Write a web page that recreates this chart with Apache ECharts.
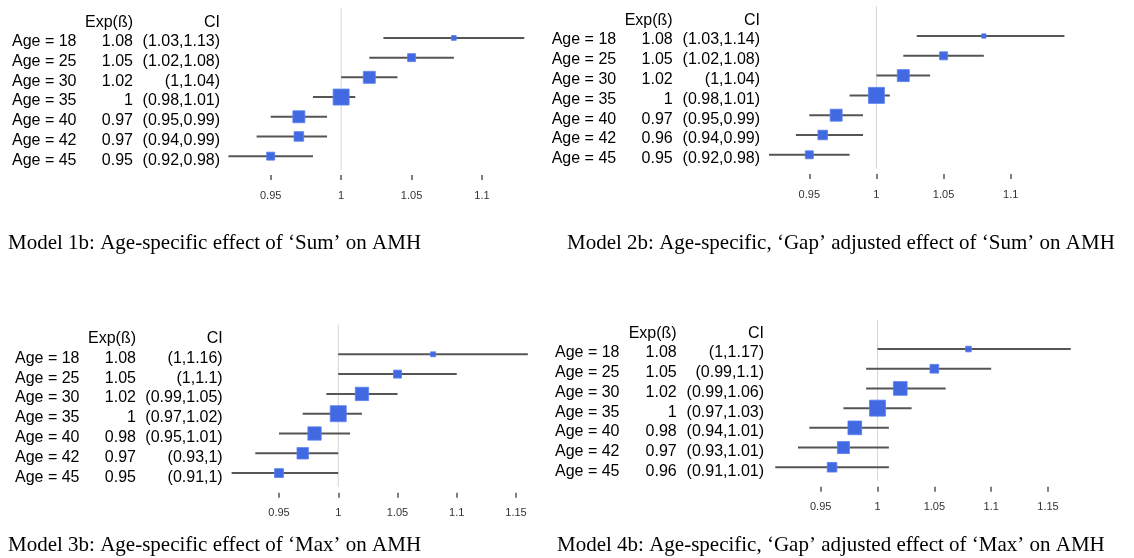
<!DOCTYPE html>
<html>
<head>
<meta charset="utf-8">
<script src="https://cdn.jsdelivr.net/npm/echarts@6/dist/echarts.min.js"></script>
<style>
html, body { margin: 0; padding: 0; background: #fff; }
#main { width: 1134px; height: 558px; }
</style>
</head>
<body>
<div id="main"></div>
<script>
// rows, top to bottom
var ages = [18, 25, 30, 35, 40, 42, 45];

// Model 1b: Sum
var sumEst = [1.08, 1.05, 1.02, 1, 0.97, 0.97, 0.95];
var sumLo  = [1.03, 1.02, 1, 0.98, 0.95, 0.94, 0.92];
var sumHi  = [1.13, 1.08, 1.04, 1.01, 0.99, 0.99, 0.98];

// Model 2b: Sum, Gap adjusted
var sumGapEst = [1.08, 1.05, 1.02, 1, 0.97, 0.96, 0.95];
var sumGapLo  = [1.03, 1.02, 1, 0.98, 0.95, 0.94, 0.92];
var sumGapHi  = [1.14, 1.08, 1.04, 1.01, 0.99, 0.99, 0.98];

// Model 3b: Max
var maxEst = [1.08, 1.05, 1.02, 1, 0.98, 0.97, 0.95];
var maxLo  = [1, 1, 0.99, 0.97, 0.95, 0.93, 0.91];
var maxHi  = [1.16, 1.1, 1.05, 1.02, 1.01, 1, 1];

// Model 4b: Max, Gap adjusted
var maxGapEst = [1.08, 1.05, 1.02, 1, 0.98, 0.97, 0.96];
var maxGapLo  = [1, 0.99, 0.99, 0.97, 0.94, 0.93, 0.91];
var maxGapHi  = [1.17, 1.1, 1.06, 1.03, 1.01, 1.01, 1.01];

var captions = [
    'Model 1b: Age-specific effect of \u2018Sum\u2019 on AMH',
    'Model 2b: Age-specific, \u2018Gap\u2019 adjusted effect of \u2018Sum\u2019 on AMH',
    'Model 3b: Age-specific effect of \u2018Max\u2019 on AMH',
    'Model 4b: Age-specific, \u2018Gap\u2019 adjusted effect of \u2018Max\u2019 on AMH'
];

var refValue = 1;
var boxColor = '#4169e1';
var lineColor = '#555';
var maxBox = 16;

/*panel layout*/
var panels = [
    {est: sumEst, lo: sumLo, hi: sumHi, axisMax: 1.1,
     grid: {left: 270.7, right: 652, top: 8.4, height: 157.6}, offset: 9,
     textLeft: 12, cols: [70, 51, 87], cap: [8, 233]},
    {est: sumGapEst, lo: sumGapLo, hi: sumGapHi, axisMax: 1.1,
     grid: {left: 809.3, right: 123.3, top: 6.3, height: 158.4}, offset: 9.3,
     textLeft: 551.7, cols: [70, 51, 87.3], cap: [567, 233]},
    {est: maxEst, lo: maxLo, hi: maxHi, axisMax: 1.15,
     grid: {left: 279, right: 618, top: 324.6, height: 158.4}, offset: 9.7,
     textLeft: 15, cols: [70, 51, 86.7], cap: [8, 535]},
    {est: maxGapEst, lo: maxGapLo, hi: maxGapHi, axisMax: 1.15,
     grid: {left: 820.7, right: 86, top: 319.5, height: 157.6}, offset: 9.6,
     textLeft: 555, cols: [70, 51.7, 87.3], cap: [557, 535]}
];

var categories = ['header'].concat(ages.map(function (a) { return 'Age = ' + a; }));

function renderRow(params, api) {
    var row = api.value(0);
    var est = api.coord([api.value(1), row]);
    var lo = api.coord([api.value(2), row]);
    var hi = api.coord([api.value(3), row]);
    var s = maxBox * api.value(4);
    return {
        type: 'group',
        children: [
            {type: 'line', shape: {x1: lo[0], y1: lo[1], x2: hi[0], y2: hi[1]},
             style: {stroke: lineColor, lineWidth: 2}},
            {type: 'rect', shape: {x: est[0] - s / 2, y: est[1] - s / 2, width: s, height: s},
             style: {fill: boxColor, stroke: '#5b80f0', lineWidth: 0.8}}
        ]
    };
}

function renderRef(params, api) {
    var x = api.coord([api.value(0), 0])[0];
    var cs = params.coordSys;
    return {
        type: 'line',
        shape: {x1: x, y1: cs.y, x2: x, y2: cs.y + cs.height + 4},
        style: {stroke: '#d6d6d6', lineWidth: 1}
    };
}

var grids = [], xAxes = [], yAxes = [], series = [], titles = [];

panels.forEach(function (p, k) {
    var minW = Infinity;
    p.est.forEach(function (v, i) { minW = Math.min(minW, p.hi[i] - p.lo[i]); });
    var rows = p.est.map(function (v, i) {
        return [i + 1, v, p.lo[i], p.hi[i], minW / (p.hi[i] - p.lo[i])];
    });

    grids.push(p.grid);
    xAxes.push({
        type: 'value', gridIndex: k, min: 0.95, max: p.axisMax, interval: 0.05,
        offset: p.offset,
        axisLine: {lineStyle: {color: lineColor, width: 1.5}},
        axisTick: {show: true, length: 5, lineStyle: {color: lineColor, width: 1.5}},
        splitLine: {show: false},
        axisLabel: {margin: 15, fontSize: 11, color: '#333', fontFamily: 'Liberation Sans'}
    });
    yAxes.push({
        type: 'category', gridIndex: k, inverse: true, data: categories,
        axisLine: {show: false}, axisTick: {show: false}, splitLine: {show: false},
        axisLabel: {
            interval: 0, align: 'left', margin: p.grid.left - p.textLeft,
            fontFamily: 'Liberation Sans', fontSize: 16, color: '#000',
            padding: [8, 0, 0, 0],
            formatter: function (value, index) {
                if (index === 0) return '{a| }{b|Exp(\u00df)}{c|CI}';
                var i = index - 1;
                return '{a|Age = ' + ages[i] + '}{b|' + p.est[i] + '}{c|(' + p.lo[i] + ',' + p.hi[i] + ')}';
            },
            rich: {
                a: {width: p.cols[0], align: 'left', fontSize: 16, fontFamily: 'Liberation Sans', color: '#000'},
                b: {width: p.cols[1], align: 'right', fontSize: 16, fontFamily: 'Liberation Sans', color: '#000'},
                c: {width: p.cols[2], align: 'right', fontSize: 16, fontFamily: 'Liberation Sans', color: '#000'}
            }
        }
    });
    series.push({
        type: 'custom', xAxisIndex: k, yAxisIndex: k, clip: false, silent: true, z: 1,
        encode: {x: 0, y: 1}, data: [[refValue, 0]], renderItem: renderRef
    });
    series.push({
        type: 'custom', xAxisIndex: k, yAxisIndex: k, clip: false, silent: true, z: 2,
        encode: {x: [1, 2, 3], y: 0}, data: rows, renderItem: renderRow
    });
    titles.push({
        text: captions[k], left: p.cap[0], top: p.cap[1], padding: 0,
        textStyle: {fontFamily: 'Liberation Serif', fontSize: 21, fontWeight: 'normal', color: '#000'}
    });
});

var myChart = echarts.init(document.getElementById('main'));
myChart.setOption({
    animation: false,
    title: titles,
    grid: grids,
    xAxis: xAxes,
    yAxis: yAxes,
    series: series
});
</script>
</body>
</html>
